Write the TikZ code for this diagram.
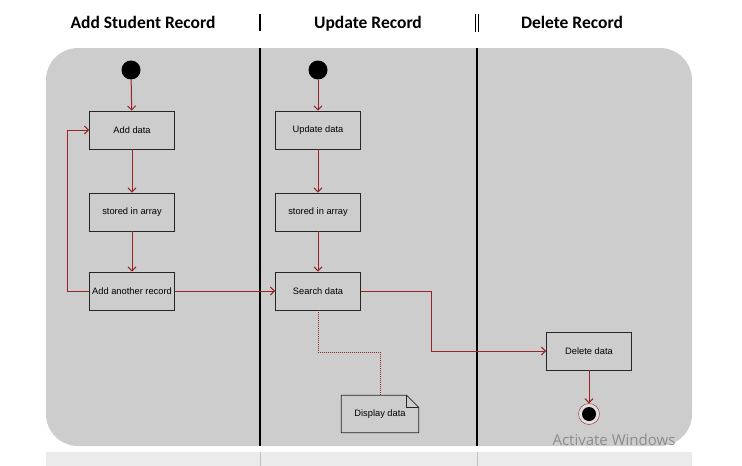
\documentclass[tikz,border=0pt]{standalone}
\usepackage{fontspec}
\setmainfont{Liberation Sans}
\newfontfamily\titlefont{Carlito}
\newfontfamily\winfont{Open Sans}
\usetikzlibrary{arrows.meta, positioning}

\definecolor{lanegray}{RGB}{205,205,205}
\definecolor{flowred}{RGB}{150,36,36}

\begin{document}
\begin{tikzpicture}[x=1pt, y=-1pt]
	\tikzset{>={Straight Barb[length=4pt, width=8pt]},
		action/.style={draw=black!85, fill=lanegray, line width=0.8pt, minimum width=85pt, minimum height=38pt, inner sep=0pt, font=\fontsize{9.3}{11}\selectfont},
		start/.style={circle, fill=black, minimum size=19pt, inner sep=0pt},
		flow/.style={->, draw=flowred, line width=1pt},
		lane title/.style={anchor=base, font=\titlefont\bfseries\fontsize{17.5}{20}\selectfont},
		lane line/.style={draw=black, line width=1.1pt}
	}
	\useasboundingbox (0,0) rectangle (742,466);

	% swimlanes
	\fill[black!8] (46,452) rectangle (692,466);
	\draw[black!25, line width=1pt] (260,452) -- (260,466) (477,452) -- (477,466);
	\fill[lanegray, rounded corners=32pt] (46,48) rectangle (692,446);
	\node[lane title] (t1) at (143,28) {Add Student Record};
	\node[lane title] (t2) at (368,28) {Update Record};
	\node[lane title] (t3) at (572,28) {Delete Record};
	\draw[lane line] (260,14) -- (260,31) (260,48) -- (260,446);
	\draw[lane line] (475.5,14) -- (475.5,32);
	\draw[black, line width=0.7pt] (478.5,14) -- (478.5,32);
	\draw[lane line] (477,48) -- (477,446);

	% add lane
	\node[start] (s1) at (131,70) {};
	\node[action] (add) at (132,130) {Add data};
	\node[action] (store1) at (132,212) {stored in array};
	\node[action] (another) at (132,291) {Add another record};
	\coordinate (loop) at (67,130);

	% update lane
	\node[start] (s2) at (318,70) {};
	\node[action] (update) at (318,130) {Update data};
	\node[action] (store2) at (318,212) {stored in array};
	\node[action] (search) at (318,291) {Search data};
	\node[minimum width=77pt, minimum height=37pt, inner sep=0pt] (display) at (380,414) {};
	\draw[draw=black!85, fill=lanegray, line width=0.8pt] (display.south west) -- (display.north west) -- ([xshift=-12pt]display.north east) -- ([yshift=-12pt]display.north east) -- (display.south east) -- cycle;
	\draw[black!85, line width=0.8pt] ([xshift=-12pt]display.north east) -- ([xshift=-12pt, yshift=-12pt]display.north east) -- ([yshift=-12pt]display.north east);
	\node[font=\fontsize{9.3}{11}\selectfont] (displaytext) at (display) {Display data};
	\coordinate (knee) at (318,352);
	\coordinate (bend) at (431,351);

	% delete lane
	\node[action] (delete) at (589,351) {Delete data};
	\node[circle, draw=flowred, fill=black!12, minimum size=21pt, inner sep=0pt] (end) at (589,414) {};
	\node[circle, fill=black, minimum size=14pt, inner sep=0pt] (endin) at (end) {};

	\draw[flow] (s1) -- (add);
	\draw[flow] (add) -- (store1);
	\draw[flow] (store1) -- (another);
	\draw[flow] (another.west) -| (loop) -- (add.west);
	\draw[flow] (another) -- (search);
	\draw[flow] (s2) -- (update);
	\draw[flow] (update) -- (store2);
	\draw[flow] (store2) -- (search);
	\draw[flow] (search.east) -| (bend) -- (delete.west);
	\draw[flow, -, densely dotted] (search.south) -- (knee) -| (display.north);
	\draw[flow] (delete) -- (end);

	\node[text=black!45, font=\winfont\fontsize{15}{18}\selectfont] (win) at (614,440) {Activate Windows};
\end{tikzpicture}
\end{document}
